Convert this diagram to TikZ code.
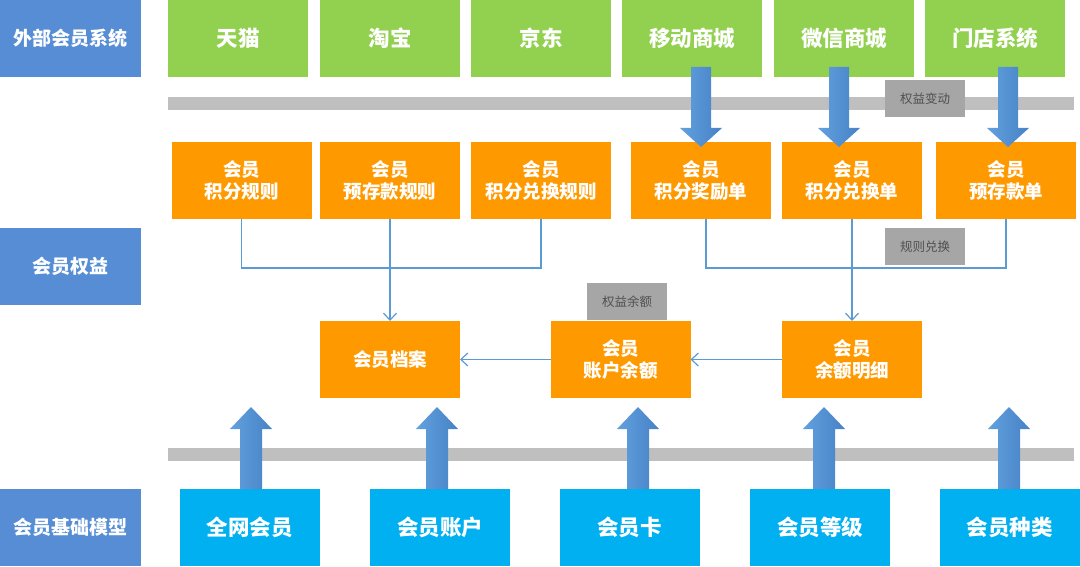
\documentclass[tikz,border=0pt]{standalone}
\usepackage{fontspec}
\setmainfont{Noto Sans CJK SC}
\usetikzlibrary{arrows.meta,calc}
\definecolor{lblue}{RGB}{86,141,212}
\definecolor{grn}{RGB}{146,208,80}
\definecolor{org}{RGB}{255,153,0}
\definecolor{cyanb}{RGB}{0,176,240}
\definecolor{barg}{RGB}{191,191,191}
\definecolor{tagg}{RGB}{166,166,166}
\definecolor{tagt}{RGB}{80,80,80}
\definecolor{linec}{RGB}{91,155,213}
\definecolor{arrd}{RGB}{70,130,198}
\definecolor{arrl}{RGB}{98,160,222}
\newcommand\fatdn[3]{\shade[fat] let \p1=($(#2.north)+(#3,0)$), \p2=(#1.south) in
 (\x1-10pt,\y2+10pt) -- (\x1+10pt,\y2+10pt) -- (\x1+10pt,\y1+14pt) -- (\x1+21pt,\y1+14pt) -- (\x1,\y1-5pt) -- (\x1-21pt,\y1+14pt) -- (\x1-10pt,\y1+14pt) -- cycle;}
\newcommand\fatup[2]{\shade[fat] let \p1=($(#1.north)+(#2,0)$), \p2=(uptip) in
 (\x1-11pt,\y1) -- (\x1+11pt,\y1) -- (\x1+11pt,\y2-22pt) -- (\x1+21pt,\y2-22pt) -- (\x1,\y2) -- (\x1-21pt,\y2-22pt) -- (\x1-11pt,\y2-22pt) -- cycle;}
\begin{document}
\begin{tikzpicture}[x=1pt,y=-1pt,
 box/.style={inner sep=0pt, outer sep=0pt, text=white, align=center, font=\bfseries\fontsize{18.5}{22}\selectfont},
 side/.style={box, fill=lblue, minimum width=141pt, minimum height=77pt, font=\bfseries\fontsize{19}{22}\selectfont},
 src/.style={box, fill=grn, minimum width=140pt, minimum height=77pt, font=\bfseries\fontsize{21.5}{24}\selectfont},
 rule/.style={box, fill=org, minimum width=140pt, minimum height=77pt},
 base/.style={box, fill=cyanb, minimum width=140pt, minimum height=77pt, font=\bfseries\fontsize{21.5}{24}\selectfont},
 tag/.style={inner sep=0pt, fill=tagg, minimum width=80pt, minimum height=37pt, text=tagt, font=\fontsize{12.5}{14}\selectfont},
 bar/.style={fill=barg},
 fat/.style={left color=arrl, right color=arrd},
 conn/.style={draw=linec, line width=1.2pt},
 arr/.style={conn, -{Straight Barb[length=7pt,width=13pt,line width=1.2pt]}}
]
\useasboundingbox (0,0) rectangle (1080,567);
% bars
\fill[bar] (168,97) rectangle (1074,110);
\fill[bar] (168,448) rectangle (1074,461);
% side labels
\node[side] (s1) at (70.5,38.5) {外部会员系统};
\node[side] (s2) at (70.5,266.5) {会员权益};
\node[side] (s3) at (70.5,527.5) {会员基础模型};
% sources
\node[src] (g1) at (238,38.5) {天猫};
\node[src] (g2) at (390,38.5) {淘宝};
\node[src] (g3) at (541,38.5) {京东};
\node[src] (g4) at (692,38.5) {移动商城};
\node[src] (g5) at (844,38.5) {微信商城};
\node[src] (g6) at (995,38.5) {门店系统};
% rules row
\node[rule] (o1) at (241.5,180.5) {会员\\积分规则};
\node[rule] (o2) at (390,180.5) {会员\\预存款规则};
\node[rule] (o3) at (541,180.5) {会员\\积分兑换规则};
\node[rule] (o4) at (701,180.5) {会员\\积分奖励单};
\node[rule] (o5) at (852,180.5) {会员\\积分兑换单};
\node[rule] (o6) at (1006,180.5) {会员\\预存款单};
% second row
\node[rule] (a1) at (390,359.5) {会员档案};
\node[rule] (a2) at (620.5,359.5) {会员\\账户余额};
\node[rule] (a3) at (852,359.5) {会员\\余额明细};
% base row
\node[base] (b1) at (249.5,527.5) {全网会员};
\node[base] (b2) at (440,527.5) {会员账户};
\node[base] (b3) at (629.5,527.5) {会员卡};
\node[base] (b4) at (820,527.5) {会员等级};
\node[base] (b5) at (1009.5,527.5) {会员种类};
% thin connectors
\coordinate (h1) at (0,268);
\draw[conn] (o1.south) -- (o1.south |- h1) -- (o3.south |- h1) -- (o3.south);
\draw[arr] (o2.south) -- (a1.north);
\coordinate (o4d) at ($(o4.south)+(5,0)$);
\draw[conn] (o4d) -- (o4d |- h1) -- (o6.south |- h1) -- (o6.south);
\draw[arr] (o5.south) -- (a3.north);
\draw[arr] (a3.west) -- (a2.east);
\draw[arr] (a2.west) -- (a1.east);
% fat arrows
\fatdn{g4}{o4}{0}
\fatdn{g5}{o5}{-13}
\fatdn{g6}{o6}{2}
\coordinate (uptip) at (0,407);
\fatup{b1}{1.5}
\fatup{b2}{-3}
\fatup{b3}{8.5}
\fatup{b4}{4}
\fatup{b5}{-0.5}
% tags
\node[tag] (t1) at (925,99) {权益变动};
\node[tag] (t2) at (925,246.5) {规则兑换};
\node[tag] (t3) at (627,301.5) {权益余额};
\end{tikzpicture}
\end{document}
